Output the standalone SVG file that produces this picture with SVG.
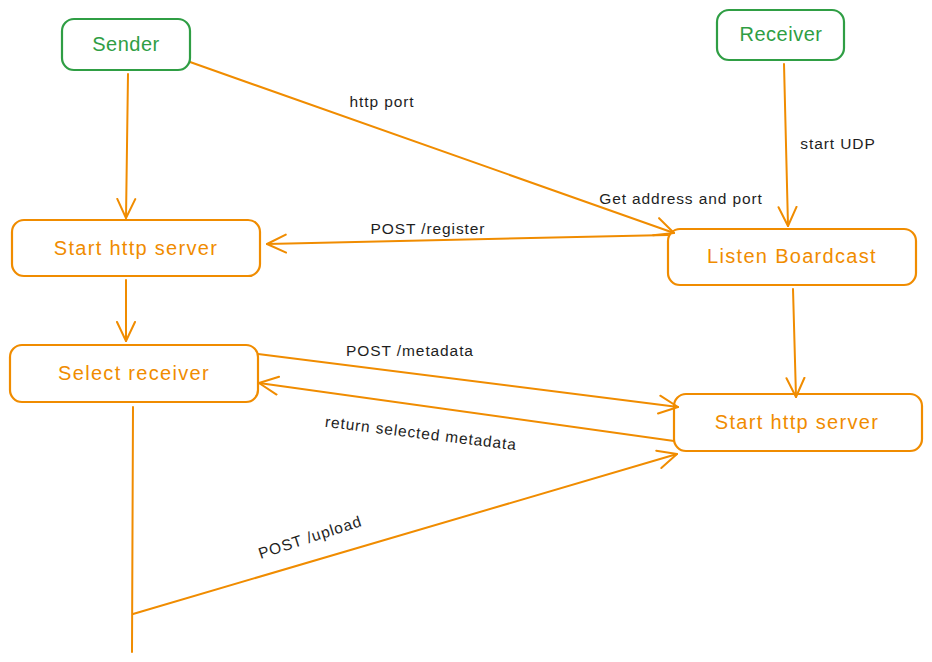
<svg xmlns="http://www.w3.org/2000/svg" width="932" height="662" viewBox="0 0 932 662">
<style>
.green{fill:none;stroke:#2f9e44;stroke-width:2.2}
.orange{fill:none;stroke:#f08c00;stroke-width:2.2}
.gt{fill:#2f9e44;font-family:"Liberation Sans",sans-serif;font-size:20px;text-anchor:middle;dominant-baseline:central;letter-spacing:0.5px}
.ot{fill:#f08c00;font-family:"Liberation Sans",sans-serif;font-size:20px;text-anchor:middle;dominant-baseline:central;letter-spacing:1.3px}
.lbl{fill:#1e1e1e;font-family:"Liberation Sans",sans-serif;font-size:15.5px;text-anchor:middle;dominant-baseline:central;letter-spacing:0.9px}
.c{fill:none;stroke:#f08c00;stroke-width:2;stroke-linecap:round}
</style>
<defs>
<marker id="ah" viewBox="0 0 22 22" refX="20" refY="11" markerWidth="22" markerHeight="22" markerUnits="userSpaceOnUse" orient="auto">
<path d="M1,2 L20,11 L1,20" fill="none" stroke="#f08c00" stroke-width="2" stroke-linecap="round" stroke-linejoin="round"/>
</marker>
</defs>
<rect width="932" height="662" fill="#ffffff"/>
<g id="connectors">
<path class="c" d="M128,74 L126,218" marker-end="url(#ah)"/>
<path class="c" d="M190,62 L674,233" marker-end="url(#ah)"/>
<path class="c" d="M668,235 L267,244" marker-end="url(#ah)"/>
<path class="c" d="M784,64 L788,226" marker-end="url(#ah)"/>
<path class="c" d="M126,280 L126,341" marker-end="url(#ah)"/>
<path class="c" d="M793,289 L796,397" marker-end="url(#ah)"/>
<path class="c" d="M258,354 L678,407" marker-end="url(#ah)"/>
<path class="c" d="M674,441 L259,383" marker-end="url(#ah)"/>
<path class="c" d="M133,407 L132,652"/>
<path class="c" d="M133,614 L677,454" marker-end="url(#ah)"/>
<text class="lbl" x="382" y="101">http port</text>
<text class="lbl" x="681" y="198">Get address and port</text>
<text class="lbl" x="428" y="228">POST /register</text>
<text class="lbl" x="838" y="143">start UDP</text>
<text class="lbl" x="410" y="350">POST /metadata</text>
<text class="lbl" x="421" y="433" transform="rotate(7 421 433)">return selected metadata</text>
<text class="lbl" x="310" y="537" transform="rotate(-18 310 537)">POST /upload</text>
</g>
<g id="sender">
<rect class="green" x="62" y="19" width="128" height="51" rx="12"/>
<text class="gt" x="126" y="44">Sender</text>
</g>
<g id="receiver">
<rect class="green" x="717" y="10" width="127" height="50" rx="12"/>
<text class="gt" x="781" y="34">Receiver</text>
</g>
<g id="start-http-server-left">
<rect class="orange" x="12" y="220" width="248" height="56" rx="12"/>
<text class="ot" x="136" y="248">Start http server</text>
</g>
<g id="listen-boardcast">
<rect class="orange" x="668" y="229" width="248" height="56" rx="12"/>
<text class="ot" x="792" y="256">Listen Boardcast</text>
</g>
<g id="select-receiver">
<rect class="orange" x="10" y="345" width="248" height="57" rx="12"/>
<text class="ot" x="134" y="373">Select receiver</text>
</g>
<g id="start-http-server-right">
<rect class="orange" x="674" y="394" width="248" height="57" rx="12"/>
<text class="ot" x="797" y="422">Start http server</text>
</g>
</svg>
